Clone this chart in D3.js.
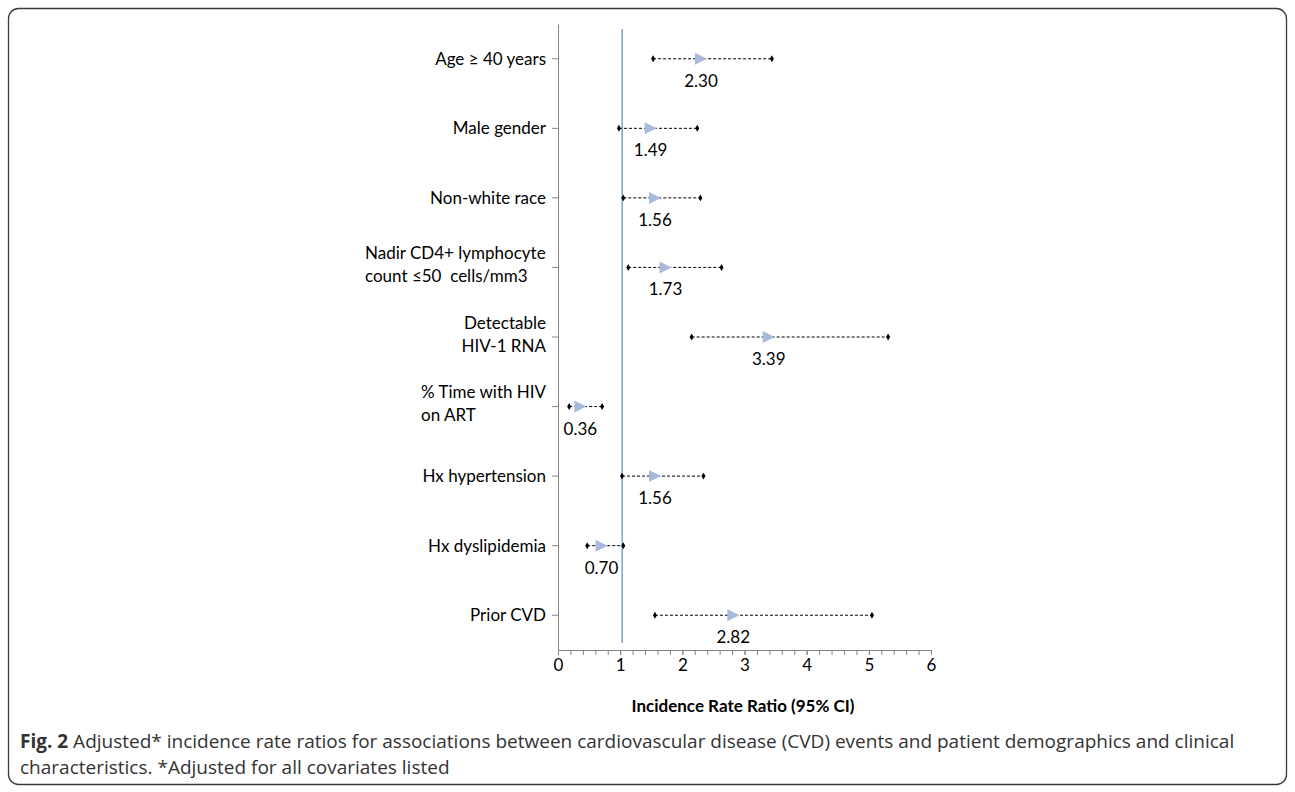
<!DOCTYPE html>
<meta charset="utf-8">
<html>
<head>
<title>Fig. 2</title>
<style>
  body { margin: 0; background: #fff; }
  .lbl { font-family: Lato, sans-serif; font-size: 17px; fill: #000; white-space: pre; }
  .axis text { font-family: Lato, sans-serif; font-size: 17px; fill: #000; }
  .axis path, .axis line { stroke: #868686; }
  .caption { font-family: "Open Sans", sans-serif; font-size: 19px; fill: #333; }
</style>
<script src="https://d3js.org/d3.v7.min.js"></script>
</head>
<body>
<svg width="1295" height="792"></svg>
<script>
  // data
  var labels = [
    ["Age \u2265 40 years"],
    ["Male gender"],
    ["Non-white race"],
    ["Nadir CD4+ lymphocyte", "count \u226450  cells/mm3"],
    ["Detectable", "HIV-1 RNA"],
    ["% Time with HIV", "on ART"],
    ["Hx hypertension"],
    ["Hx dyslipidemia"],
    ["Prior CVD"]
  ];
  var labelAlign = ["end", "end", "end", "start", "end", "start", "end", "end", "end"];
  var irr   = [2.30, 1.49, 1.56, 1.73, 3.39, 0.36, 1.56, 0.70, 2.82];
  var lower = [1.53, 0.98, 1.05, 1.13, 2.15, 0.18, 1.03, 0.47, 1.56];
  var upper = [3.44, 2.24, 2.29, 2.63, 5.31, 0.71, 2.34, 1.05, 5.05];
  var xTicks = [0, 1, 2, 3, 4, 5, 6];

  var svg = d3.select("svg");

  // frame
  svg.append("rect")
      .attr("x", 8.5).attr("y", 8.5)
      .attr("width", 1278).attr("height", 776)
      .attr("rx", 10)
      .attr("fill", "none")
      .attr("stroke", "#3a3a3a")
      .attr("stroke-width", 1.3);

  var x = d3.scaleLinear().domain([0, 6]).range([558, 931]);
  var y = d3.scaleBand().domain(d3.range(labels.length)).range([24, 650]);
  var cy = function (i) { return y(i) + y.bandwidth() / 2; };

  // minor ticks
  svg.append("g")
      .attr("class", "axis")
      .attr("transform", "translate(0,650)")
      .call(d3.axisBottom(x).tickValues(d3.range(0, 6.01, 0.2)).tickSize(5).tickFormat(""))
      .call(function (g) { g.select(".domain").remove(); });

  // x axis
  svg.append("g")
      .attr("class", "axis")
      .attr("transform", "translate(0,650)")
      .call(d3.axisBottom(x).tickValues(xTicks).tickSize(5).tickSizeOuter(0).tickPadding(4).tickFormat(d3.format("d")));

  // y axis line and ticks
  svg.append("g")
      .attr("class", "axis")
      .attr("transform", "translate(558,0)")
      .call(d3.axisLeft(y).tickSize(6).tickSizeOuter(0).tickFormat(""));

  // category labels
  var lab = svg.append("g");
  labels.forEach(function (lines, i) {
    var t = lab.append("text")
        .attr("class", "lbl")
        .attr("text-anchor", labelAlign[i]);
    var n = lines.length;
    lines.forEach(function (s, k) {
      var xx = labelAlign[i] === "end" ? 546 : 365;
      if (labelAlign[i] === "start" && i === 5) xx = 421;
      t.append("tspan")
          .attr("x", xx)
          .attr("y", cy(i) + 6 + (k - (n - 1) / 2) * 23 - (n > 1 ? 3 : 0))
          .text(s);
    });
  });

  // reference line at 1
  svg.append("line")
      .attr("x1", x(1) + 2).attr("x2", x(1) + 2)
      .attr("y1", 29).attr("y2", 643)
      .attr("stroke", "#7ea1cd")
      .attr("stroke-width", 1.5);

  // CI lines
  var rows = svg.append("g").selectAll("g")
      .data(d3.range(labels.length))
      .enter().append("g");

  rows.append("line")
      .attr("x1", function (i) { return x(lower[i]); })
      .attr("x2", function (i) { return x(upper[i]); })
      .attr("y1", cy).attr("y2", cy)
      .attr("stroke", "#000")
      .attr("stroke-width", 1)
      .attr("stroke-dasharray", "3,2");

  var diamond = d3.symbol().type(d3.symbolDiamond).size(14);
  rows.append("path")
      .attr("d", diamond)
      .attr("transform", function (i) { return "translate(" + x(lower[i]) + "," + cy(i) + ")"; });
  rows.append("path")
      .attr("d", diamond)
      .attr("transform", function (i) { return "translate(" + x(upper[i]) + "," + cy(i) + ")"; });

  rows.append("path")
      .attr("d", "M-6,-6L6,0L-6,6Z")
      .attr("fill", "#a7b9dc")
      .attr("transform", function (i) { return "translate(" + x(irr[i]) + "," + cy(i) + ")"; });

  rows.append("text")
      .attr("class", "lbl")
      .attr("text-anchor", "middle")
      .attr("x", function (i) { return x(irr[i]); })
      .attr("y", function (i) { return cy(i) + 28; })
      .text(function (i) { return irr[i].toFixed(2); });

  // axis title
  svg.append("text")
      .attr("x", 743).attr("y", 712)
      .attr("text-anchor", "middle")
      .style("font-family", "Lato, sans-serif")
      .style("font-size", "17px")
      .style("font-weight", "bold")
      .text("Incidence Rate Ratio (95% CI)");

  // caption
  var cap = svg.append("text").attr("class", "caption").attr("x", 20).attr("y", 748);
  cap.append("tspan").style("font-weight", "bold").text("Fig. 2");
  cap.append("tspan").text(" Adjusted* incidence rate ratios for associations between cardiovascular disease (CVD) events and patient demographics and clinical");
  svg.append("text").attr("class", "caption").attr("x", 20).attr("y", 774)
      .text("characteristics. *Adjusted for all covariates listed");
</script>
</body>
</html>
